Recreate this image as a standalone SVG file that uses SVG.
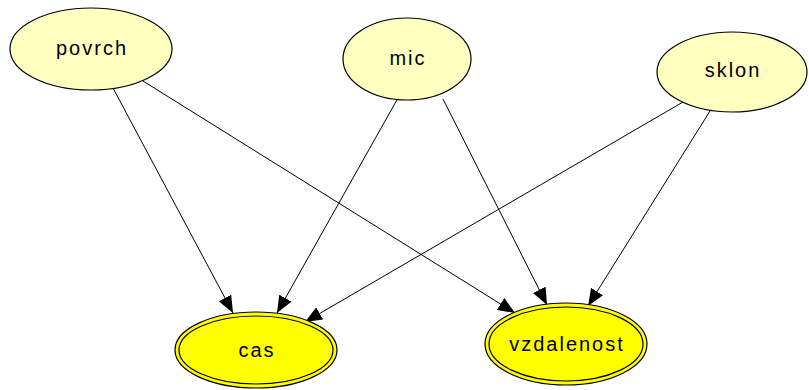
<svg xmlns="http://www.w3.org/2000/svg" width="809" height="390" viewBox="0 0 809 390">
<style>
.n ellipse{stroke:#000;stroke-width:1.2}
.pale{fill:#ffffc0}
.gold{fill:#ffff00}
text{font-family:"Liberation Sans",Arial,sans-serif;font-size:20px;letter-spacing:2px;fill:#000;text-anchor:middle}
.e line{stroke:#000;stroke-width:1;marker-end:url(#ah)}
</style>
<defs>
<marker id="ah" markerUnits="userSpaceOnUse" markerWidth="18" markerHeight="14" refX="17" refY="7" orient="auto">
<path d="M0,0 L17,7 L0,14 z" fill="#000"/>
</marker>
</defs>
<rect width="809" height="390" fill="#fff"/>
<g class="e">
<line x1="113" y1="88" x2="233" y2="313"/>
<line x1="143" y1="81" x2="515" y2="313"/>
<line x1="398" y1="98" x2="277" y2="313"/>
<line x1="443" y1="99" x2="547" y2="305"/>
<line x1="683" y1="102" x2="305" y2="322"/>
<line x1="710" y1="111" x2="588" y2="306"/>
</g>
<g id="povrch" class="n"><ellipse class="pale" cx="91" cy="49" rx="81" ry="41"/><text x="92" y="55">povrch</text></g>
<g id="mic" class="n"><ellipse class="pale" cx="407" cy="59" rx="64" ry="41"/><text x="408" y="65">mic</text></g>
<g id="sklon" class="n"><ellipse class="pale" cx="732" cy="72" rx="75" ry="40"/><text x="733" y="77">sklon</text></g>
<g id="cas" class="n"><ellipse class="gold" cx="256" cy="350" rx="81" ry="38"/><ellipse class="gold" cx="256" cy="350" rx="77" ry="34"/><text x="257" y="357">cas</text></g>
<g id="vzdalenost" class="n"><ellipse class="gold" cx="566" cy="344" rx="81" ry="41"/><ellipse class="gold" cx="566" cy="344" rx="77" ry="37"/><text x="567" y="351">vzdalenost</text></g>
</svg>
